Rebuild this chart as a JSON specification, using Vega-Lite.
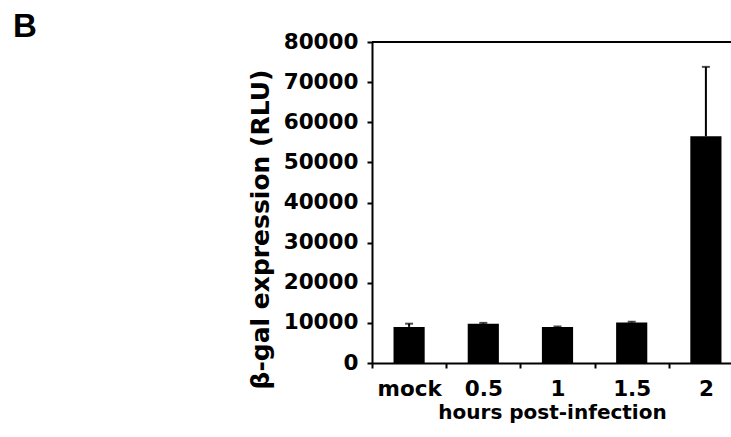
{
  "$schema": "https://vega.github.io/schema/vega-lite/v6.json",
  "autosize": "none",
  "width": 359,
  "height": 321,
  "padding": {"left": 372, "top": 42, "right": 0, "bottom": 74},
  "background": "white",
  "config": {
    "view": {"stroke": null},
    "font": "DejaVu Sans",
    "axis": {
      "domainColor": "black",
      "domainWidth": 2,
      "tickColor": "black",
      "tickWidth": 2,
      "tickSize": 5,
      "labelColor": "black",
      "labelFont": "DejaVu Sans",
      "labelFontWeight": "bold",
      "labelFontSize": 21.5,
      "titleColor": "black",
      "titleFont": "DejaVu Sans",
      "titleFontWeight": "bold",
      "grid": false
    }
  },
  "title": {
    "text": "B",
    "anchor": "start",
    "frame": "group",
    "font": "Liberation Sans",
    "fontSize": 33,
    "fontWeight": "bold",
    "color": "black",
    "dx": -359,
    "dy": 43,
    "offset": 4,
    "baseline": "alphabetic"
  },
  "data": {
    "values": [
      {"hours": "mock", "value": 9000, "upper": 9800},
      {"hours": "0.5", "value": 9800, "upper": 10000},
      {"hours": "1", "value": 9000, "upper": 9100},
      {"hours": "1.5", "value": 10100, "upper": 10300},
      {"hours": "2", "value": 56500, "upper": 73800}
    ]
  },
  "layer": [
    {
      "mark": {"type": "bar", "color": "black", "width": {"band": 0.42}},
      "encoding": {
        "x": {
          "field": "hours",
          "type": "ordinal",
          "sort": null,
          "scale": {"range": [0, 371], "paddingInner": 0, "paddingOuter": 0},
          "axis": {
            "title": "hours post-infection",
            "tickBand": "extent",
            "labelAngle": 0,
            "labelPadding": 10,
            "titleFontSize": 20,
            "titlePadding": 3,
            "titleX": 180
          }
        },
        "y": {
          "field": "value",
          "type": "quantitative",
          "scale": {"domain": [0, 80000], "nice": false},
          "axis": {
            "title": "β-gal expression (RLU)",
            "values": [0, 10000, 20000, 30000, 40000, 50000, 60000, 70000, 80000],
            "format": "d",
            "labelPadding": 9,
            "titleFontSize": 25,
            "titlePadding": 10,
            "titleY": 187
          }
        }
      }
    },
    {
      "mark": {"type": "rule", "color": "black", "strokeWidth": 2},
      "encoding": {
        "x": {"field": "hours", "type": "ordinal", "sort": null},
        "y": {"field": "value", "type": "quantitative"},
        "y2": {"field": "upper"}
      }
    },
    {
      "mark": {"type": "tick", "color": "black", "thickness": 2, "size": 8},
      "encoding": {
        "x": {"field": "hours", "type": "ordinal", "sort": null},
        "y": {"field": "upper", "type": "quantitative"}
      }
    },
    {
      "mark": {"type": "rule", "color": "black", "strokeWidth": 2},
      "encoding": {"y": {"datum": 80000}}
    }
  ]
}
